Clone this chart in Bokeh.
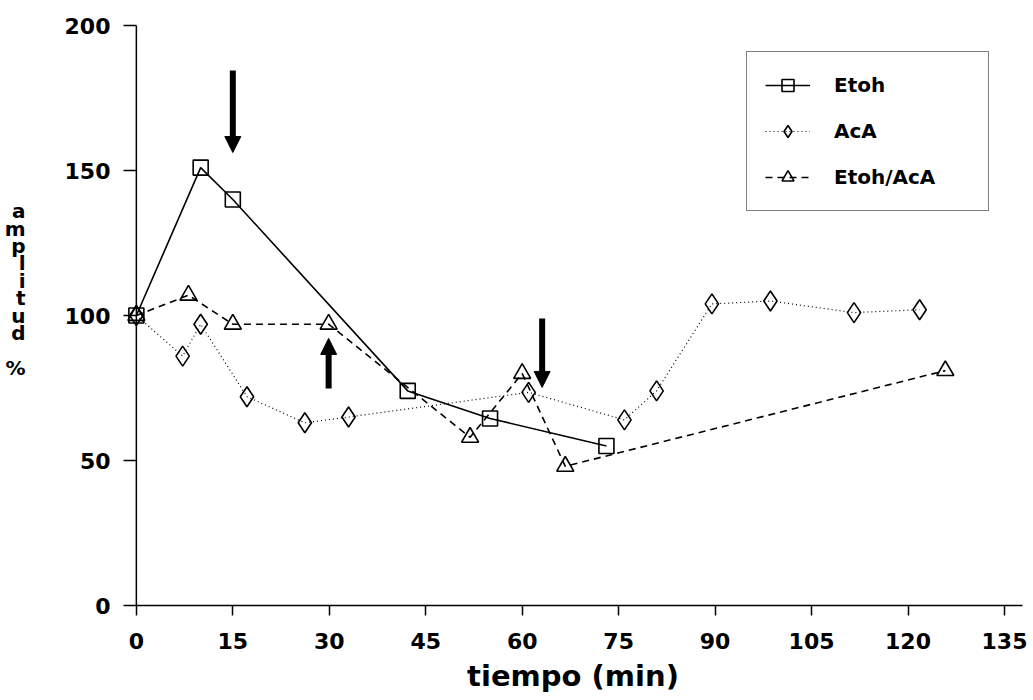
from bokeh.plotting import figure
from bokeh.models import (FixedTicker, Legend, LegendItem, Arrow, NormalHead, Span)
from bokeh.embed import file_html
from bokeh.resources import INLINE

# ---- data ----
etoh_t = [0, 10, 15, 42.2, 55, 73.1]
etoh_v = [100, 151, 140, 74, 64.5, 55]

aca_t = [0, 7.2, 10, 17.2, 26.2, 33, 61, 75.9, 80.9, 89.5, 98.6, 111.6, 121.8]
aca_v = [100, 86, 97, 72, 63, 65, 73.5, 64, 74, 104, 105, 101, 102]

mix_t = [0, 8.1, 15, 29.9, 51.9, 60, 66.7, 125.8]
mix_v = [100, 107, 97, 97, 58, 80, 48, 81]

series_names = ["Etoh", "AcA", "Etoh/AcA"]
x_ticks = [0, 15, 30, 45, 60, 75, 90, 105, 120, 135]
y_ticks = [0, 50, 100, 150, 200]

# arrows (time, start value, end value)
arrow_t = [15, 29.9, 63.1]
arrow_from = [184.5, 74.8, 99.0]
arrow_to = [156.2, 92.1, 75.2]

y_letters = ["a", "m", "p", "l", "i", "t", "u", "d", "", "%"]

FONT = "DejaVu Sans"
FRAME_LEFT = 123
FRAME_BOTTOM = 605

p = figure(width=1033, height=700, x_range=(-2, 137.8), y_range=(0, 200),
           min_border_left=FRAME_LEFT, min_border_right=11, min_border_top=25,
           min_border_bottom=700 - FRAME_BOTTOM, output_backend="svg",
           toolbar_location=None)
p.outline_line_color = None
p.grid.grid_line_color = None

for ax in (p.xaxis[0], p.yaxis[0]):
    ax.axis_line_width = 1.5
    ax.axis_line_color = "black"
    ax.major_tick_line_width = 1.5
    ax.major_tick_line_color = "black"
    ax.minor_tick_line_color = None
    ax.major_label_text_font = FONT
    ax.major_label_text_font_style = "bold"
    ax.major_label_text_font_size = "22px"
    ax.major_label_text_color = "black"

p.xaxis.ticker = FixedTicker(ticks=x_ticks)
p.xaxis.bounds = (0, 137.8)
p.xaxis.major_tick_in = 0
p.xaxis.major_tick_out = 10
p.xaxis.major_label_standoff = 17
p.xaxis.axis_label = "tiempo (min)"
p.xaxis.axis_label_text_font = FONT
p.xaxis.axis_label_text_font_style = "bold"
p.xaxis.axis_label_text_font_size = "29px"
p.xaxis.axis_label_standoff = 7
p.xaxis.axis_label_text_color = "black"

# y axis: ticks reach from the frame edge to the axis line at t = 0
p.yaxis.ticker = FixedTicker(ticks=y_ticks)
p.yaxis.axis_line_color = None
p.yaxis.major_tick_in = 13
p.yaxis.major_tick_out = 0
p.yaxis.major_label_standoff = 13
# stacked letters; trailing blank lines lift the block above the frame centre
p.yaxis.axis_label = "\n".join(y_letters + ["\u00a0", "\u00a0", "\u00a0"])
p.yaxis.axis_label_orientation = "horizontal"
p.yaxis.axis_label_text_font = FONT
p.yaxis.axis_label_text_font_style = "bold"
p.yaxis.axis_label_text_font_size = "20px"
p.yaxis.axis_label_text_line_height = 0.725
p.yaxis.axis_label_text_align = "center"
p.yaxis.axis_label_text_color = "black"
p.yaxis.axis_label_standoff = 36
p.add_layout(Span(location=0, dimension="height", line_color="black", line_width=1.5))

l1 = p.line(etoh_t, etoh_v, line_color="black", line_width=1.6)
m1 = p.scatter(etoh_t, etoh_v, marker="square", size=15, fill_color=None,
               line_color="black", line_width=1.6)
l2 = p.line(aca_t, aca_v, line_color="black", line_width=1.2, line_dash="1 3")
m2 = p.scatter(aca_t, aca_v, marker="diamond", size=20, fill_color=None,
               line_color="black", line_width=1.6)
l3 = p.line(mix_t, mix_v, line_color="black", line_width=1.6, line_dash="7 5")
m3 = p.scatter(mix_t, mix_v, marker="triangle", size=17, fill_color=None,
               line_color="black", line_width=1.6)

for t, a, b in zip(arrow_t, arrow_from, arrow_to):
    p.add_layout(Arrow(x_start=t, y_start=a, x_end=t, y_end=b,
                       line_width=6, line_color="black",
                       end=NormalHead(size=16, fill_color="black",
                                      line_color="black", line_width=1)))

legend = Legend(items=[
    LegendItem(label=series_names[0], renderers=[l1, m1]),
    LegendItem(label=series_names[1], renderers=[l2, m2]),
    LegendItem(label=series_names[2], renderers=[l3, m3]),
], location=(746 - FRAME_LEFT, FRAME_BOTTOM - 211))
legend.border_line_color = "black"
legend.border_line_width = 1.5
legend.background_fill_color = "white"
legend.background_fill_alpha = 1
legend.label_text_font = FONT
legend.label_text_font_style = "bold"
legend.label_text_font_size = "20px"
legend.label_text_color = "black"
legend.glyph_width = 45
legend.glyph_height = 30
legend.label_height = 30
legend.label_standoff = 24
legend.spacing = 16
legend.padding = 18
legend.label_width = 136
legend.margin = 0
p.add_layout(legend, "center")

open("out.html", "w").write(file_html(p, INLINE))
